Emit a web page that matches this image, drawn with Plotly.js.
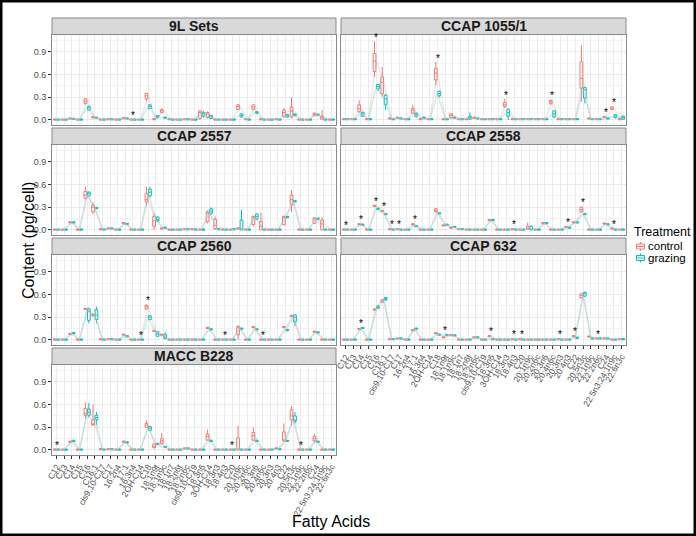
<!DOCTYPE html>
<html><head><meta charset="utf-8">
<script src="https://cdn.plot.ly/plotly-3.0.1.min.js"></script>
<style>html,body{margin:0;padding:0;background:#fff}#chart{width:696px;height:536px}</style>
</head><body><div id="chart"></div>
<script>
const fattyAcids = ["C12","C13","C14","C15","C16","C16:1","cis9,10-C17","C17","16:2n4","17:1","16:3n4","2OH-C14","C18","18:1n9t","18:1n9c","18:1n7","18:2n6t","18:2n6c","cis9,10-C19","18:3n6","3OH-C14","18:3n3","18:4n3","C20","20:1n9c","20:2n6c","20:3n6","20:4n6c","20:3n3","20:4n3","C22","20:5n3c","22:1n9c","22:2n6c","C24","22:5n3;24:1n9c","22:6n3c"];
const treatments = ["control","grazing"];
const panelNames = ["9L Sets","CCAP 1055/1","CCAP 2557","CCAP 2558","CCAP 2560","CCAP 632","MACC B228"];

// medians (pg/cell), one value per fatty acid
const L9_ctrl = [0.005,0.005,0.02,0.005,0.25,0.035,0.005,0.01,0.005,0.025,0.005,0.005,0.32,0.01,0.12,0.01,0.005,0.01,0.005,0.1,0.08,0.005,0.005,0.005,0.18,0.01,0.17,0.01,0.005,0.01,0.1,0.12,0.005,0.005,0.08,0.04,0.005];
const L9_graz = [0.005,0.005,0.015,0.005,0.16,0.03,0.005,0.01,0.005,0.02,0.005,0.005,0.18,0.04,0.03,0.005,0.005,0.01,0.005,0.08,0.04,0.005,0.005,0.005,0.06,0.005,0.1,0.005,0.005,0.005,0.05,0.07,0.005,0.005,0.07,0.005,0.005];
const C1055_ctrl = [0.01,0.01,0.15,0.01,0.78,0.5,0.02,0.03,0.01,0.13,0.01,0.01,0.62,0.01,0.06,0.01,0.01,0.03,0.01,0.01,0.01,0.2,0.01,0.01,0.01,0.01,0.01,0.24,0.01,0.01,0.01,0.55,0.02,0.01,0.04,0.16,0.01];
const C1055_graz = [0.01,0.01,0.08,0.01,0.44,0.28,0.01,0.02,0.01,0.07,0.03,0.01,0.35,0.01,0.03,0.01,0.03,0.02,0.01,0.01,0.01,0.1,0.01,0.01,0.01,0.01,0.01,0.08,0.01,0.01,0.01,0.4,0.01,0.01,0.02,0.05,0.03];
const C2557_ctrl = [0.005,0.005,0.1,0.005,0.46,0.3,0.01,0.02,0.005,0.09,0.005,0.005,0.4,0.12,0.02,0.005,0.005,0.01,0.01,0.005,0.22,0.06,0.005,0.005,0.02,0.005,0.17,0.05,0.005,0.005,0.16,0.4,0.005,0.005,0.15,0.08,0.005];
const C2557_graz = [0.005,0.005,0.1,0.005,0.48,0.29,0.005,0.02,0.005,0.08,0.005,0.005,0.5,0.14,0.03,0.005,0.005,0.01,0.005,0.005,0.25,0.01,0.005,0.01,0.01,0.005,0.18,0.005,0.005,0.005,0.17,0.38,0.005,0.005,0.15,0.005,0.005];
const C2558_ctrl = [0.005,0.005,0.075,0.005,0.32,0.25,0.01,0.01,0.005,0.075,0.005,0.005,0.26,0.06,0.03,0.01,0.005,0.005,0.005,0.13,0.005,0.005,0.01,0.005,0.02,0.005,0.09,0.005,0.005,0.04,0.1,0.27,0.005,0.005,0.085,0.02,0.005];
const C2558_graz = [0.005,0.005,0.07,0.005,0.28,0.21,0.005,0.005,0.005,0.05,0.005,0.005,0.22,0.07,0.04,0.01,0.005,0.005,0.005,0.13,0.005,0.005,0.005,0.005,0.01,0.005,0.09,0.005,0.005,0.03,0.1,0.21,0.005,0.005,0.075,0.005,0.005];
const C2560_ctrl = [0.005,0.005,0.08,0.005,0.41,0.33,0.01,0.01,0.005,0.07,0.005,0.005,0.44,0.12,0.07,0.005,0.005,0.005,0.005,0.005,0.16,0.005,0.005,0.005,0.16,0.005,0.17,0.005,0.005,0.005,0.17,0.32,0.005,0.005,0.11,0.005,0.005];
const C2560_graz = [0.005,0.005,0.09,0.005,0.38,0.33,0.005,0.01,0.005,0.05,0.005,0.005,0.3,0.08,0.04,0.005,0.005,0.005,0.005,0.005,0.14,0.005,0.005,0.005,0.15,0.005,0.14,0.005,0.005,0.005,0.13,0.3,0.005,0.005,0.1,0.005,0.005];
const C632_ctrl = [0.005,0.005,0.145,0.005,0.4,0.52,0.01,0.02,0.005,0.13,0.005,0.005,0.09,0.035,0.065,0.005,0.005,0.035,0.005,0.05,0.005,0.005,0.01,0.01,0.005,0.005,0.005,0.005,0.01,0.005,0.05,0.59,0.045,0.02,0.02,0.005,0.01];
const C632_graz = [0.005,0.005,0.16,0.005,0.43,0.55,0.01,0.02,0.005,0.15,0.005,0.005,0.07,0.065,0.06,0.005,0.005,0.035,0.005,0.01,0.005,0.005,0.005,0.005,0.005,0.005,0.005,0.005,0.005,0.005,0.03,0.61,0.02,0.02,0.02,0.005,0.01];
const B228_ctrl = [0.005,0.005,0.11,0.005,0.48,0.34,0.01,0.01,0.005,0.11,0.005,0.005,0.33,0.05,0.12,0.005,0.005,0.02,0.005,0.005,0.18,0.005,0.005,0.005,0.01,0.005,0.19,0.005,0.005,0.02,0.13,0.45,0.005,0.005,0.15,0.005,0.005];
const B228_graz = [0.005,0.005,0.12,0.005,0.5,0.43,0.005,0.01,0.005,0.1,0.005,0.005,0.29,0.08,0.04,0.005,0.005,0.02,0.005,0.005,0.12,0.005,0.005,0.005,0.005,0.005,0.12,0.005,0.005,0.01,0.12,0.39,0.005,0.005,0.11,0.005,0.005];

// visibly spread boxes: index -> [lower whisker, q1, median, q3, upper whisker]
const L9_ctrlBox = {4:[0.2,0.22,0.25,0.28,0.29],12:[0.25,0.28,0.32,0.35,0.36],14:[0.09,0.1,0.12,0.14,0.15],19:[0.0,0.02,0.1,0.12,0.13],20:[0.02,0.03,0.08,0.1,0.11],24:[0.13,0.14,0.18,0.2,0.21],26:[0.13,0.14,0.17,0.2,0.2],30:[0.03,0.05,0.1,0.13,0.16],31:[0.02,0.04,0.12,0.17,0.3],34:[0.05,0.06,0.08,0.09,0.1],35:[0.0,0.01,0.04,0.05,0.13]};
const L9_grazBox = {4:[0.12,0.13,0.16,0.18,0.19],12:[0.14,0.15,0.18,0.2,0.21],13:[0.02,0.03,0.04,0.06,0.06],19:[0.03,0.05,0.08,0.1,0.12],20:[0.01,0.02,0.04,0.06,0.07],24:[0.03,0.04,0.06,0.08,0.09],26:[0.08,0.09,0.1,0.11,0.11],30:[0.03,0.04,0.05,0.07,0.08],31:[0.05,0.06,0.07,0.08,0.08]};
const C1055_ctrlBox = {2:[0.09,0.11,0.15,0.2,0.26],4:[0.57,0.64,0.78,0.88,1.04],5:[0.31,0.35,0.5,0.57,0.7],9:[0.08,0.09,0.13,0.15,0.2],12:[0.46,0.53,0.62,0.68,0.77],14:[0.02,0.03,0.06,0.08,0.09],21:[0.16,0.18,0.2,0.23,0.28],27:[0.2,0.22,0.24,0.26,0.27],31:[0.24,0.42,0.55,0.77,0.99],35:[0.13,0.14,0.16,0.17,0.18]};
const C1055_grazBox = {2:[0.04,0.05,0.08,0.1,0.11],4:[0.38,0.41,0.44,0.47,0.48],5:[0.13,0.2,0.28,0.33,0.34],9:[0.03,0.05,0.07,0.09,0.1],12:[0.3,0.32,0.35,0.38,0.39],16:[0.0,0.01,0.03,0.05,0.1],21:[0.0,0.05,0.1,0.14,0.15],27:[0.02,0.04,0.08,0.12,0.13],31:[0.22,0.29,0.4,0.43,0.44],35:[0.02,0.03,0.05,0.07,0.08],36:[0.0,0.01,0.03,0.05,0.06]};
const C2557_ctrlBox = {4:[0.4,0.42,0.46,0.51,0.57],5:[0.21,0.24,0.3,0.33,0.36],12:[0.32,0.37,0.4,0.48,0.57],13:[0.0,0.05,0.12,0.18,0.22],20:[0.09,0.11,0.22,0.24,0.26],21:[0.0,0.02,0.06,0.14,0.18],26:[0.05,0.07,0.17,0.18,0.19],27:[0.0,0.0,0.05,0.11,0.23],30:[0.06,0.07,0.16,0.18,0.19],31:[0.24,0.33,0.4,0.46,0.53],34:[0.08,0.09,0.15,0.16,0.17],35:[0.0,0.0,0.08,0.13,0.17]};
const C2557_grazBox = {4:[0.44,0.45,0.48,0.5,0.51],12:[0.43,0.45,0.5,0.54,0.57],13:[0.1,0.12,0.14,0.17,0.18],20:[0.2,0.22,0.25,0.28,0.3],24:[0.0,0.0,0.01,0.13,0.27],26:[0.13,0.15,0.18,0.21,0.22]};
const C2558_ctrlBox = {12:[0.23,0.24,0.26,0.28,0.29],24:[0.0,0.01,0.02,0.05,0.1],31:[0.23,0.24,0.27,0.3,0.31]};
const C2558_grazBox = {24:[0.0,0.0,0.01,0.05,0.06]};
const C2560_ctrlBox = {4:[0.4,0.405,0.41,0.42,0.42],5:[0.31,0.32,0.33,0.34,0.35],12:[0.4,0.41,0.44,0.46,0.47],24:[0.0,0.07,0.16,0.18,0.19]};
const C2560_grazBox = {4:[0.22,0.26,0.38,0.41,0.43],5:[0.22,0.27,0.33,0.4,0.44],12:[0.26,0.27,0.3,0.32,0.33],13:[0.04,0.05,0.08,0.11,0.12],14:[0.01,0.02,0.04,0.07,0.1],31:[0.18,0.24,0.3,0.33,0.34]};
const C632_ctrlBox = {4:[0.39,0.395,0.4,0.41,0.42],5:[0.49,0.5,0.52,0.53,0.54],31:[0.55,0.56,0.59,0.61,0.62]};
const C632_grazBox = {4:[0.41,0.42,0.43,0.45,0.46],5:[0.52,0.53,0.55,0.56,0.57],31:[0.57,0.58,0.61,0.63,0.64]};
const B228_ctrlBox = {4:[0.42,0.46,0.48,0.55,0.63],5:[0.32,0.33,0.34,0.4,0.6],12:[0.29,0.3,0.33,0.35,0.39],13:[0.02,0.03,0.05,0.08,0.08],14:[0.07,0.08,0.12,0.15,0.22],20:[0.12,0.13,0.18,0.21,0.27],24:[0.0,0.0,0.01,0.16,0.32],26:[0.12,0.13,0.19,0.23,0.3],30:[0.11,0.12,0.13,0.24,0.35],31:[0.32,0.4,0.45,0.53,0.58],34:[0.1,0.12,0.15,0.18,0.21]};
const B228_grazBox = {4:[0.43,0.46,0.5,0.54,0.62],5:[0.33,0.4,0.43,0.46,0.5],12:[0.25,0.26,0.29,0.31,0.32],31:[0.35,0.38,0.39,0.45,0.5]};

// significant differences (index of fatty acid)
const L9_sig = [10];
const C1055_sig = [4,12,21,27,34,35];
const C2557_sig = [];
const C2558_sig = [0,2,4,5,6,7,9,22,29,31,35];
const C2560_sig = [11,12,22,27];
const C632_sig = [2,13,19,22,23,28,30,33];
const B228_sig = [0,23,32];

const panels = [
  {ctrl:L9_ctrl, graz:L9_graz, cb:L9_ctrlBox, gb:L9_grazBox, sig:L9_sig},
  {ctrl:C1055_ctrl, graz:C1055_graz, cb:C1055_ctrlBox, gb:C1055_grazBox, sig:C1055_sig},
  {ctrl:C2557_ctrl, graz:C2557_graz, cb:C2557_ctrlBox, gb:C2557_grazBox, sig:C2557_sig},
  {ctrl:C2558_ctrl, graz:C2558_graz, cb:C2558_ctrlBox, gb:C2558_grazBox, sig:C2558_sig},
  {ctrl:C2560_ctrl, graz:C2560_graz, cb:C2560_ctrlBox, gb:C2560_grazBox, sig:C2560_sig},
  {ctrl:C632_ctrl, graz:C632_graz, cb:C632_ctrlBox, gb:C632_grazBox, sig:C632_sig},
  {ctrl:B228_ctrl, graz:B228_graz, cb:B228_ctrlBox, gb:B228_grazBox, sig:B228_sig}
];

const W = 696, H = 536;
const px = v => v / W, py = v => 1 - v / H;
const colX = [[52, 336], [341, 626]];
const RED = '#F8766D', CYAN = '#00BFC4';
const FONT = '"Liberation Sans", Arial, sans-serif';
const idx = fattyAcids.map((_, i) => i);
const DODGE = 0.225, BOXW = 0.36;
const traces = [], shapes = [], annotations = [];
const layout = {
  width: W, height: H, margin: {l:0, r:0, t:0, b:0, autoexpand:false},
  paper_bgcolor: '#fff', plot_bgcolor: '#fff', showlegend: false,
  boxmode: 'overlay',
  font: {family: FONT, color: '#000'}
};

function stats(med, box) {
  const s = {lo:[], q1:[], md:[], q3:[], hi:[]};
  med.forEach((m, i) => {
    const b = box[i] || [m - 0.008, m - 0.008, m, m + 0.008, m + 0.008];
    s.lo.push(b[0]); s.q1.push(b[1]); s.md.push(b[2]); s.q3.push(b[3]); s.hi.push(b[4]);
  });
  return s;
}

panels.forEach((p, k) => {
  const col = k % 2, row = Math.floor(k / 2);
  const st = 18 + 110 * row, sb = st + 16.5, pb = sb + 90;
  const n = k + 1, xs = n === 1 ? '' : String(n);
  const bottom = (k === 6 || k === 5);
  layout['xaxis' + xs] = {
    domain: [px(colX[col][0]), px(colX[col][1])], anchor: 'y' + xs,
    type: 'linear', range: [-0.6, fattyAcids.length - 0.4],
    tickmode: 'array', tickvals: idx, ticktext: fattyAcids,
    showgrid: true, gridcolor: '#ebebeb', gridwidth: 1, zeroline: false,
    showline: true, mirror: true, linecolor: '#8a8a8a', linewidth: 1,
    showticklabels: bottom, ticks: bottom ? 'outside' : '', ticklen: 3, tickcolor: '#333',
    tickangle: -60, tickfont: {size: 8.5, color: '#4d4d4d', family: FONT}, fixedrange: true
  };
  layout['yaxis' + xs] = {
    domain: [py(pb), py(sb)], anchor: 'x' + xs, range: [-0.06, 1.131],
    tickmode: 'array', tickvals: [0, 0.3, 0.6, 0.9], ticktext: ['0.0', '0.3', '0.6', '0.9'],
    showgrid: true, gridcolor: '#ebebeb', gridwidth: 1, zeroline: false,
    minor: {tickvals: [0.15, 0.45, 0.75, 1.05], showgrid: true, gridcolor: '#f4f4f4', gridwidth: 1, ticks: ''},
    showline: true, mirror: true, linecolor: '#8a8a8a', linewidth: 1,
    showticklabels: col === 0, ticks: col === 0 ? 'outside' : '', ticklen: 3, tickcolor: '#333',
    tickfont: {size: 9, color: '#4d4d4d', family: FONT}, fixedrange: true
  };
  // strip
  shapes.push({type: 'rect', xref: 'paper', yref: 'paper', x0: px(colX[col][0]), x1: px(colX[col][1]),
    y0: py(sb), y1: py(st), fillcolor: '#d9d9d9', line: {color: '#8a8a8a', width: 1}, layer: 'above'});
  annotations.push({xref: 'paper', yref: 'paper', x: px((colX[col][0] + colX[col][1]) / 2), y: py((st + sb) / 2),
    text: '<b>' + panelNames[k] + '</b>', showarrow: false, xanchor: 'center', yanchor: 'middle',
    font: {size: 14, color: '#1a1a1a', family: FONT}});

  const cs = stats(p.ctrl, p.cb), gs = stats(p.graz, p.gb);
  // faint connecting lines
  [[cs.md, 'rgba(200,175,175,0.3)'], [gs.md, 'rgba(150,205,205,0.4)']].forEach(([m, c]) => {
    traces.push({type: 'scatter', mode: 'lines', x: idx, y: m, xaxis: 'x' + xs, yaxis: 'y' + xs,
      line: {color: c, width: 1.5}, hoverinfo: 'skip', showlegend: false});
  });
  [[cs, RED, treatments[0], -DODGE], [gs, CYAN, treatments[1], DODGE]].forEach(([s, c, nm, off]) => {
    traces.push({type: 'box', name: nm, x: idx.map(i => i + off), q1: s.q1, median: s.md, q3: s.q3,
      lowerfence: s.lo, upperfence: s.hi, xaxis: 'x' + xs, yaxis: 'y' + xs, width: BOXW,
      boxpoints: false, whiskerwidth: 0, fillcolor: '#ffffff', line: {color: c, width: 1},
      hoverinfo: 'skip', showlegend: false});
  });
  p.sig.forEach(i => {
    const top = Math.max(cs.hi[i], gs.hi[i]);
    annotations.push({xref: 'x' + xs, yref: 'y' + xs, x: i, y: top + 0.05, text: '*',
      showarrow: false, xanchor: 'center', yanchor: 'middle', font: {size: 10, color: '#000', family: FONT}});
  });
});

// axis titles
annotations.push({xref: 'paper', yref: 'paper', x: px(28), y: py(241), text: 'Content (pg/cell)', textangle: -90,
  showarrow: false, xanchor: 'center', yanchor: 'middle', font: {size: 16, color: '#000', family: FONT}});
annotations.push({xref: 'paper', yref: 'paper', x: px(331), y: py(521), text: 'Fatty Acids',
  showarrow: false, xanchor: 'center', yanchor: 'middle', font: {size: 16, color: '#000', family: FONT}});

// legend
annotations.push({xref: 'paper', yref: 'paper', x: px(633), y: py(232), text: 'Treatment',
  showarrow: false, xanchor: 'left', yanchor: 'middle', borderpad: 0, font: {size: 12.5, color: '#000', family: FONT}});
[[RED, 246.5], [CYAN, 258]].forEach(([c, yy], j) => {
  shapes.push({type: 'rect', xref: 'paper', yref: 'paper', x0: px(636.5), x1: px(644.5), y0: py(yy + 2.5), y1: py(yy - 2.5),
    line: {color: c, width: 1}, fillcolor: '#fff'});
  shapes.push({type: 'line', xref: 'paper', yref: 'paper', x0: px(636.5), x1: px(644.5), y0: py(yy), y1: py(yy), line: {color: c, width: 1}});
  shapes.push({type: 'line', xref: 'paper', yref: 'paper', x0: px(640.5), x1: px(640.5), y0: py(yy - 2.5), y1: py(yy - 4.5), line: {color: c, width: 1}});
  shapes.push({type: 'line', xref: 'paper', yref: 'paper', x0: px(640.5), x1: px(640.5), y0: py(yy + 2.5), y1: py(yy + 4.5), line: {color: c, width: 1}});
  annotations.push({xref: 'paper', yref: 'paper', x: px(647), y: py(yy), text: treatments[j],
    showarrow: false, xanchor: 'left', yanchor: 'middle', borderpad: 0, font: {size: 11.5, color: '#000', family: FONT}});
});

// outer frame
shapes.push({type: 'rect', xref: 'paper', yref: 'paper', x0: 0, x1: 1, y0: 0, y1: 1, line: {color: '#000', width: 5}, fillcolor: 'rgba(0,0,0,0)'});

layout.shapes = shapes;
layout.annotations = annotations;
Plotly.newPlot('chart', traces, layout, {staticPlot: true, displayModeBar: false});
</script></body></html>
